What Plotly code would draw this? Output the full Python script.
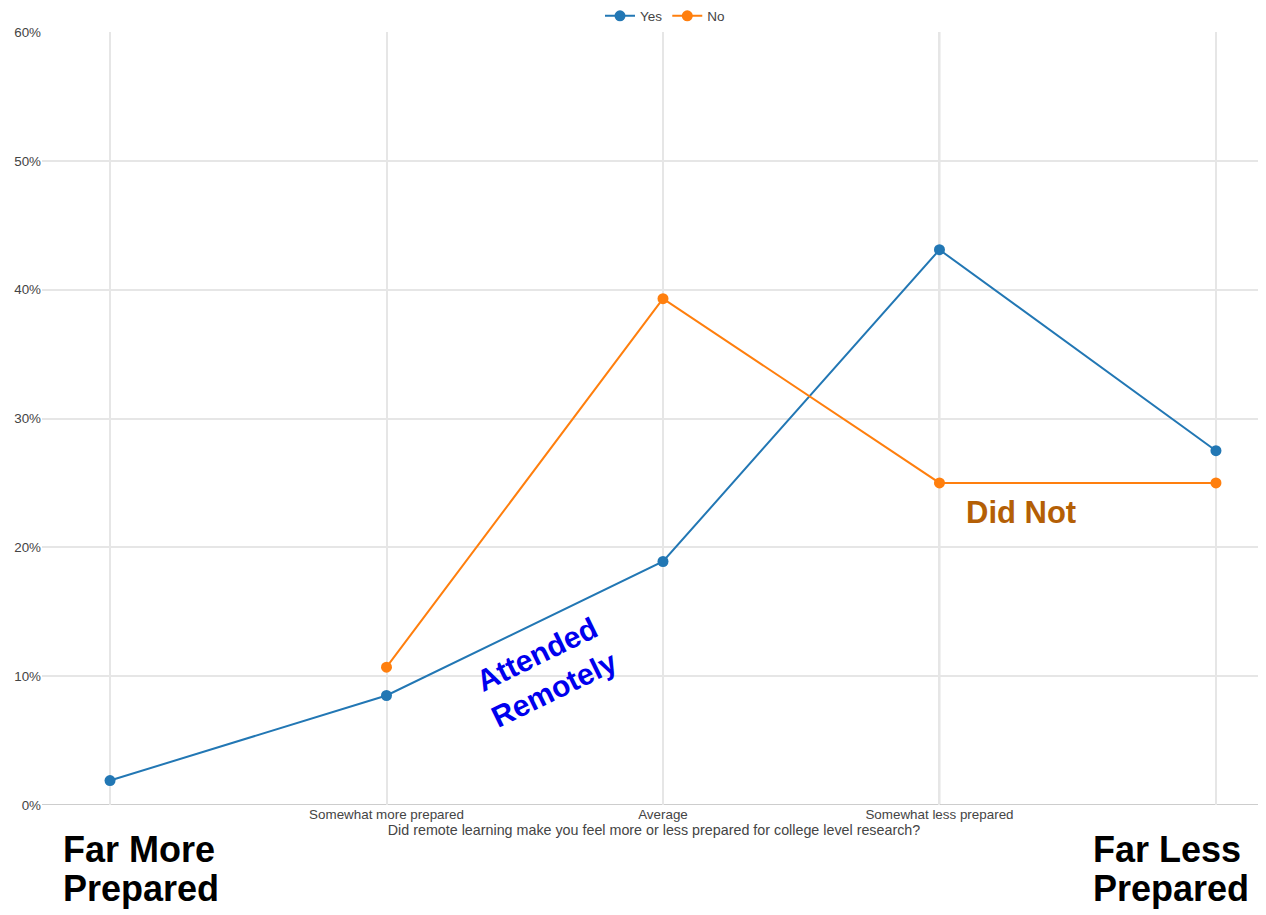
import plotly.graph_objects as go

categories = ["", "Somewhat more prepared", "Average", "Somewhat less prepared", ""]
x_pos = [0, 1, 2, 3, 4]
yes_vals = [1.9, 8.5, 18.9, 43.1, 27.5]
no_vals = [None, 10.7, 39.3, 25.0, 25.0]
y_ticks = [0, 10, 20, 30, 40, 50, 60]
y_labels = ["0%", "10%", "20%", "30%", "40%", "50%", "60%"]

# page geometry (body has 8px margin)
OFF = 8
PL, PR, PT, PB = 42, 1266, 32, 805
W, H = 1266 - OFF, 915 - OFF


def px(x):
    return (x - PL) / (PR - PL)


def py(y):
    return (PB - y) / (PB - PT)


fig = go.Figure()
fig.add_trace(go.Scatter(x=x_pos, y=yes_vals, name="Yes", mode="lines+markers",
                         line=dict(color="#2277b4", width=2), marker=dict(size=11)))
fig.add_trace(go.Scatter(x=x_pos, y=no_vals, name="No", mode="lines+markers",
                         line=dict(color="#ff7f0e", width=2), marker=dict(size=11)))

# darker reference lines
fig.add_shape(type="line", xref="paper", yref="y", x0=0, x1=1, y0=10, y1=10,
              line=dict(color="#c0c0c0", width=1.5), layer="below")
fig.add_shape(type="line", xref="x", yref="paper", x0=3, x1=3, y0=0, y1=1,
              line=dict(color="#c0c0c0", width=1.5), layer="below")
fig.add_shape(type="line", xref="paper", yref="y", x0=0, x1=1, y0=0, y1=0,
              line=dict(color="#bdbdbd", width=1.5), layer="below")

big = dict(family="Liberation Sans, Arial", size=36, color="black")
fig.add_annotation(text="<b>Far More</b>", xref="paper", yref="paper", x=px(61), y=py(850),
                   xanchor="left", yanchor="middle", showarrow=False, font=big)
fig.add_annotation(text="<b>Prepared</b>", xref="paper", yref="paper", x=px(61), y=py(888),
                   xanchor="left", yanchor="middle", showarrow=False, font=big)
fig.add_annotation(text="<b>Far Less</b>", xref="paper", yref="paper", x=px(1091), y=py(850),
                   xanchor="left", yanchor="middle", showarrow=False, font=big)
fig.add_annotation(text="<b>Prepared</b>", xref="paper", yref="paper", x=px(1091), y=py(888),
                   xanchor="left", yanchor="middle", showarrow=False, font=big)

fig.add_annotation(text="<b>Attended<br>Remotely</b>", xref="paper", yref="paper",
                   x=px(545), y=py(672), xanchor="center", yanchor="middle",
                   showarrow=False, textangle=-26,
                   font=dict(family="Liberation Sans, Arial", size=30, color="#0000ee"))
fig.add_annotation(text="<b>Did Not</b>", xref="paper", yref="paper",
                   x=px(1021), y=py(512), xanchor="center", yanchor="middle",
                   showarrow=False,
                   font=dict(family="Liberation Sans, Arial", size=31, color="#b45f06"))

fig.update_layout(
    width=W, height=H,
    margin=dict(l=PL - OFF, r=0, t=PT - OFF, b=H - (PB - OFF), autoexpand=False),
    paper_bgcolor="white", plot_bgcolor="white",
    font=dict(family="Liberation Sans, Arial", size=13, color="#444"),
    legend=dict(orientation="h", x=px(665), xanchor="center",
                yref="container", y=1 - (16 - OFF) / H, yanchor="middle",
                font=dict(size=13.5, color="#444")),
    xaxis=dict(range=[-0.246, 4.181], tickvals=x_pos, ticktext=categories,
               showgrid=True, gridcolor="#e6e6e6", gridwidth=1.5, zeroline=False,
               showline=False, ticks="", tickfont=dict(size=13.4, color="#444"),
               title=dict(text="Did remote learning make you feel more or less prepared for college level research?",
                          font=dict(size=14.3, color="#444"), standoff=1)),
    yaxis=dict(range=[0, 60], tickvals=y_ticks, ticktext=y_labels,
               showgrid=True, gridcolor="#e6e6e6", gridwidth=1.5, zeroline=False,
               ticks="", tickfont=dict(size=13.4, color="#444")),
)
fig.write_html("out.html")
